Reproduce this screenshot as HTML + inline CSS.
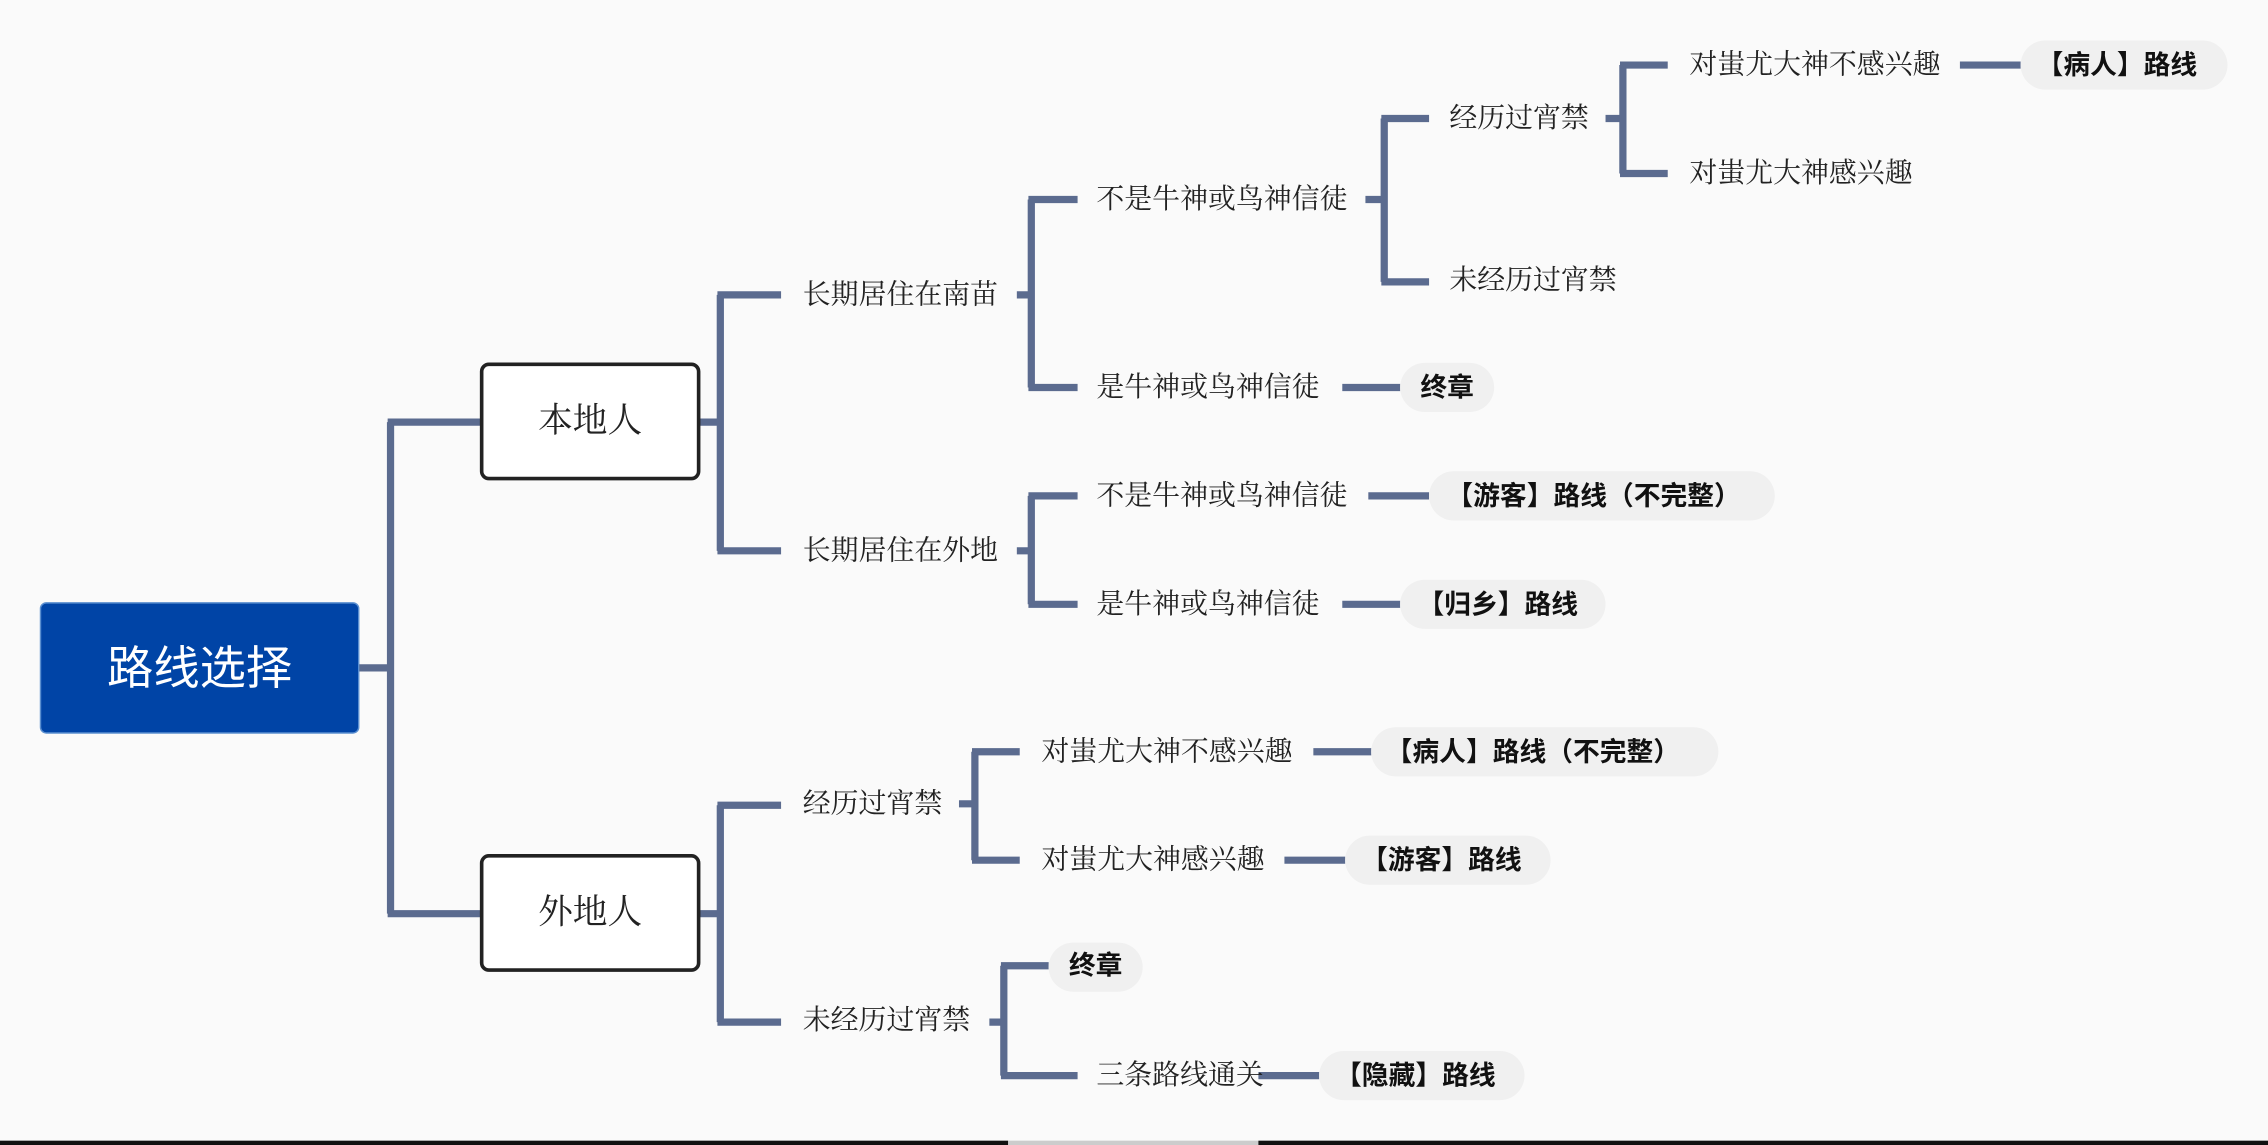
<!DOCTYPE html>
<html><head><meta charset="utf-8"><style>
html,body{margin:0;padding:0;background:#fafafa;}
svg{display:block;}
text{font-family:"Liberation Serif","Noto Serif CJK SC","Noto Sans CJK SC",serif;dominant-baseline:central;fill:#222;}
.p{font-family:"Liberation Sans","Noto Sans CJK SC",sans-serif;font-weight:bold;fill:#111;font-size:18.5px;}
.t{font-size:19.3px;}
</style></head><body>
<svg width="2268" height="1145" viewBox="0 0 1568 792" preserveAspectRatio="none">
<rect width="1568" height="792" fill="#fafafa"/>
<g fill="none" stroke="#5b6b8f" stroke-width="5">
<path d="M248 462H270M270 292V632M268 292H333M268 632H333"/>
<path d="M483 292H498M498 204V381M496 204H540M496 381H540"/>
<path d="M703 204H713M713 138V268M711 138H745M711 268H745"/>
<path d="M944 138H957M957 82V195M955 82H988M955 195H988"/>
<path d="M1110 82H1122M1122 45V120M1120 45H1153M1120 120H1153"/>
<path d="M1355 45H1397M928 268H968"/>
<path d="M703 381H713M713 343V418M711 343H745M711 418H745"/>
<path d="M946 343H988M928 418H968"/>
<path d="M483 632H498M498 557V707M496 557H540M496 707H540"/>
<path d="M663 556H674M674 520V595M672 520H705M672 595H705"/>
<path d="M908 520H948M888 595H930"/>
<path d="M684 707H694M694 668V744M692 668H725M692 744H745"/>
<path d="M870 744H912"/>
</g>
<rect x="28" y="417" width="220" height="90" rx="4" fill="#0044a6" stroke="#5a8fd0" stroke-width="1"/>
<text x="138" y="462" text-anchor="middle" style="fill:#fff;font-size:32px;font-family:'Liberation Sans','Noto Sans CJK SC',sans-serif">路线选择</text>
<rect x="333" y="252" width="150" height="79" rx="5" fill="#fff" stroke="#222" stroke-width="2.5"/>
<text x="408" y="291" text-anchor="middle" style="font-size:24px">本地人</text>
<rect x="333" y="592" width="150" height="79" rx="5" fill="#fff" stroke="#222" stroke-width="2.5"/>
<text x="408" y="631" text-anchor="middle" style="font-size:24px">外地人</text>
<g class="t">
<text class="t" x="555" y="204">长期居住在南苗</text>
<text class="t" x="555" y="381">长期居住在外地</text>
<text class="t" x="758" y="138">不是牛神或鸟神信徒</text>
<text class="t" x="758" y="268">是牛神或鸟神信徒</text>
<text class="t" x="1002" y="82">经历过宵禁</text>
<text class="t" x="1002" y="194">未经历过宵禁</text>
<text class="t" x="1168" y="45">对蚩尤大神不感兴趣</text>
<text class="t" x="1168" y="120">对蚩尤大神感兴趣</text>
<text class="t" x="758" y="343">不是牛神或鸟神信徒</text>
<text class="t" x="758" y="418">是牛神或鸟神信徒</text>
<text class="t" x="555" y="556">经历过宵禁</text>
<text class="t" x="555" y="706">未经历过宵禁</text>
<text class="t" x="720" y="520">对蚩尤大神不感兴趣</text>
<text class="t" x="720" y="595">对蚩尤大神感兴趣</text>
<text class="t" x="758" y="744">三条路线通关</text>
</g>
<g fill="#f0f0f0">
<rect x="1397" y="28" width="143" height="34" rx="17"/>
<rect x="968" y="251" width="65" height="34" rx="17"/>
<rect x="988" y="326" width="239" height="34" rx="17"/>
<rect x="968" y="401" width="142" height="34" rx="17"/>
<rect x="948" y="503" width="240" height="34" rx="17"/>
<rect x="930" y="578" width="142" height="34" rx="17"/>
<rect x="725" y="652" width="65" height="34" rx="17"/>
<rect x="912" y="727" width="142" height="34" rx="17"/>
</g>
<text class="p" x="1408" y="45">【病人】路线</text>
<text class="p" x="982" y="268">终章</text>
<text class="p" x="1000" y="343">【游客】路线（不完整）</text>
<text class="p" x="980" y="418">【归乡】路线</text>
<text class="p" x="958" y="520">【病人】路线（不完整）</text>
<text class="p" x="941" y="595">【游客】路线</text>
<text class="p" x="739" y="668">终章</text>
<text class="p" x="923" y="744">【隐藏】路线</text>
<rect x="0" y="789" width="697" height="3" fill="#111"/>
<rect x="697" y="789" width="173" height="3" fill="#ccc"/>
<rect x="870" y="789" width="698" height="3" fill="#111"/>
</svg>
</body></html>
